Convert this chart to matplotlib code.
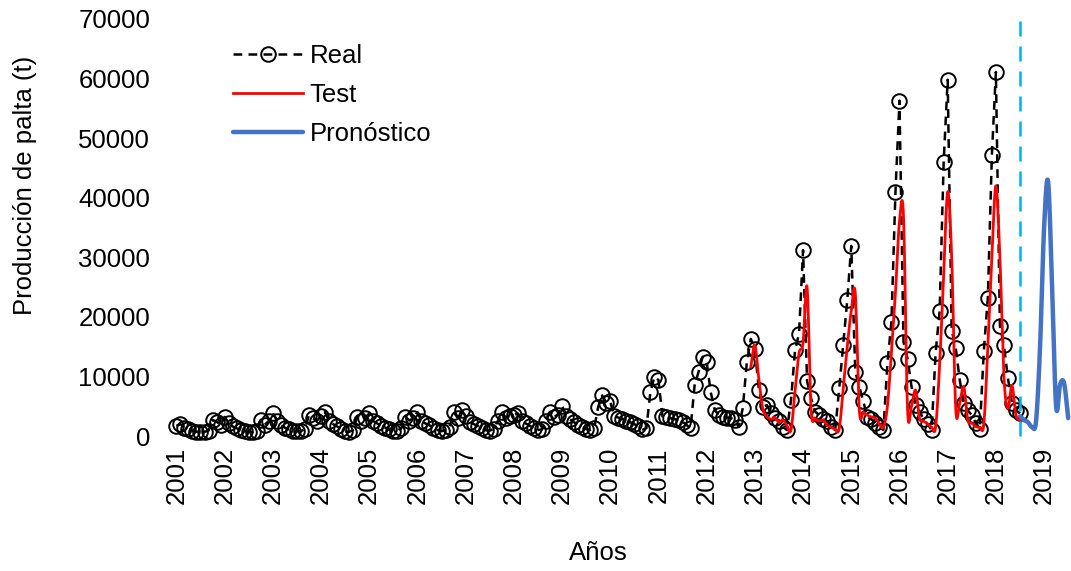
import numpy as np
import matplotlib
matplotlib.use("Agg")
import matplotlib.pyplot as plt

plt.rcParams['font.family'] = ['Liberation Sans', 'DejaVu Sans']

# monthly avocado production (t), Jan 2001 .. Jul 2018
real_2001 = [1700, 2000, 1400, 1100, 900, 700, 600, 700, 900, 2700, 2400, 1900]
real_2002 = [3200, 2200, 1600, 1300, 1000, 800, 700, 700, 900, 2700, 1900, 2500]
real_2003 = [3900, 2600, 1800, 1400, 1100, 900, 800, 800, 1200, 3500, 3000, 2600]
real_2004 = [3300, 4000, 2500, 2000, 1600, 1200, 800, 700, 1000, 3200, 2600, 3000]
real_2005 = [3800, 2500, 2100, 1700, 1400, 1100, 800, 900, 1300, 3200, 2600, 3000]
real_2006 = [4000, 2500, 2100, 1800, 1400, 1000, 800, 1000, 1500, 4000, 3100, 4300]
real_2007 = [3300, 2400, 2000, 1700, 1300, 1000, 900, 1200, 2500, 4000, 3100, 3300]
real_2008 = [3500, 3800, 2600, 2100, 1700, 1300, 1000, 1100, 2500, 4000, 3200, 3600]
real_2009 = [5100, 3400, 2800, 2300, 1900, 1500, 1200, 1000, 1300, 4900, 6800, 5600]
real_2010 = [5800, 3300, 3100, 2900, 2600, 2300, 2000, 1600, 1100, 1300, 7400, 9950]
real_2011 = [9400, 3300, 3200, 3000, 2800, 2700, 2400, 1850, 1300, 8500, 10800, 13300]
real_2012 = [12500, 7400, 4400, 3500, 3200, 3100, 3000, 2700, 1500, 4700, 12400, 16300]
real_2013 = [14600, 7800, 4900, 5200, 3800, 3000, 2600, 1500, 1000, 6000, 14400, 17200]
real_2014 = [31200, 9200, 6300, 4100, 3500, 2800, 2500, 1500, 1000, 8000, 15300, 22800]
real_2015 = [31900, 10800, 8300, 5800, 3200, 2800, 2200, 1500, 1000, 12200, 19200, 40900]
real_2016 = [56300, 15800, 13000, 8300, 5200, 4000, 2900, 2000, 1000, 14000, 21000, 46000]
real_2017 = [59800, 17700, 14800, 9400, 5500, 4300, 3500, 2200, 1200, 14300, 23200, 47100]
real_2018 = [61100, 18500, 15200, 9700, 5500, 4300, 3800]

# model output over the test period (from Dec 2012)
test_start = 143
test_vals = [11600, 15300,
             9500, 4500, 3300, 2800, 3100, 2300, 2700, 1700, 1000, 7500, 13900, 15600,
             25000, 4400, 3000, 2500, 2700, 1800, 1500, 1100, 1200, 8000, 15000, 21000,
             23950, 4400, 4000, 3500, 3200, 3000, 2000, 1500, 5000, 14000, 24000, 36000,
             37000, 4640, 5000, 7700, 3000, 2500, 2000, 1500, 1500, 12000, 27000, 41000,
             30000, 4640, 5500, 8270, 2700, 2200, 1600, 1500, 2000, 15000, 30000, 42000,
             30000, 10000, 4640, 8500, 3500, 2700]

# forecast, Jul 2018 .. Jul 2019
fc_start = 210
fc_vals = [3300, 2700, 2300, 1500, 2500, 15000, 35000, 42700, 25000, 4900, 8700, 8800, 3000]

years = list(range(2001, 2020))

real = np.concatenate([real_2001, real_2002, real_2003, real_2004, real_2005, real_2006,
                       real_2007, real_2008, real_2009, real_2010, real_2011, real_2012,
                       real_2013, real_2014, real_2015, real_2016, real_2017, real_2018])
t_real = np.arange(len(real))
t_test = np.arange(test_start, test_start + len(test_vals))
t_fc = np.arange(fc_start, fc_start + len(fc_vals))


def smooth(x, y, n=16):
    # catmull-rom curve through the points (like a smoothed line in a spreadsheet)
    x = np.asarray(x, float)
    y = np.asarray(y, float)
    py = np.concatenate([[2 * y[0] - y[1]], y, [2 * y[-1] - y[-2]]])
    t = np.linspace(0, 1, n, endpoint=False)[:, None]
    p0, p1, p2, p3 = py[:-3], py[1:-2], py[2:-1], py[3:]
    yy = 0.5 * (2 * p1 + (p2 - p0) * t + (2 * p0 - 5 * p1 + 4 * p2 - p3) * t ** 2
                + (3 * p1 - p0 - 3 * p2 + p3) * t ** 3)
    xx = x[:-1] + (x[1:] - x[:-1]) * t
    return np.append(xx.T.ravel(), x[-1]), np.append(yy.T.ravel(), y[-1])


fig = plt.figure(figsize=(10.71, 5.71), dpi=100)
ax = fig.add_axes([160 / 1071, 135 / 571, 911 / 1071, 417 / 571])

ax.plot(t_real, real, color='black', lw=1.8, ls=(0, (3.5, 2.5)), marker='o',
        ms=10.5, mfc='none', mec='black', mew=1.4, label='Real', clip_on=False)
xs, ys = smooth(t_test, test_vals)
ax.plot(xs, ys, color='#FF0000', lw=2.0, label='Test', clip_on=False)
xs, ys = smooth(t_fc, fc_vals)
ax.plot(xs, ys, color='#4472C4', lw=3.2, label='Pronóstico', clip_on=False,
        solid_capstyle='round')
ax.plot([fc_start, fc_start], [0, 70600], color='#00B0F0', lw=1.8,
        ls=(0, (6, 4)), clip_on=False)

ax.set_xlim(-4.08, 222.7)
ax.set_ylim(0, 70000)
ax.set_yticks(range(0, 70001, 10000))
ax.set_xticks(range(0, 12 * len(years), 12))
ax.set_xticklabels([str(y) for y in years], rotation=90)
ax.tick_params(axis='both', length=0, labelsize=18.5)
ax.tick_params(axis='y', pad=7)
ax.tick_params(axis='x', pad=8)
for s in ax.spines.values():
    s.set_visible(False)

fig.text(25 / 1071, 1 - 185 / 571, 'Producción de palta (t)', rotation=90,
         fontsize=18.5, ha='center', va='center')
fig.text(598 / 1071, 1 - 553 / 571, 'Años', fontsize=18.5, ha='center', va='center')

ax.legend(loc='upper left', bbox_to_anchor=(233 / 1071, 1 - 44 / 571),
          bbox_transform=fig.transFigure, frameon=False, fontsize=18.5,
          handlelength=2.72, handletextpad=0.27, labelspacing=0.58,
          borderpad=0, borderaxespad=0, numpoints=1)

fig.savefig('out.png', dpi=100)
